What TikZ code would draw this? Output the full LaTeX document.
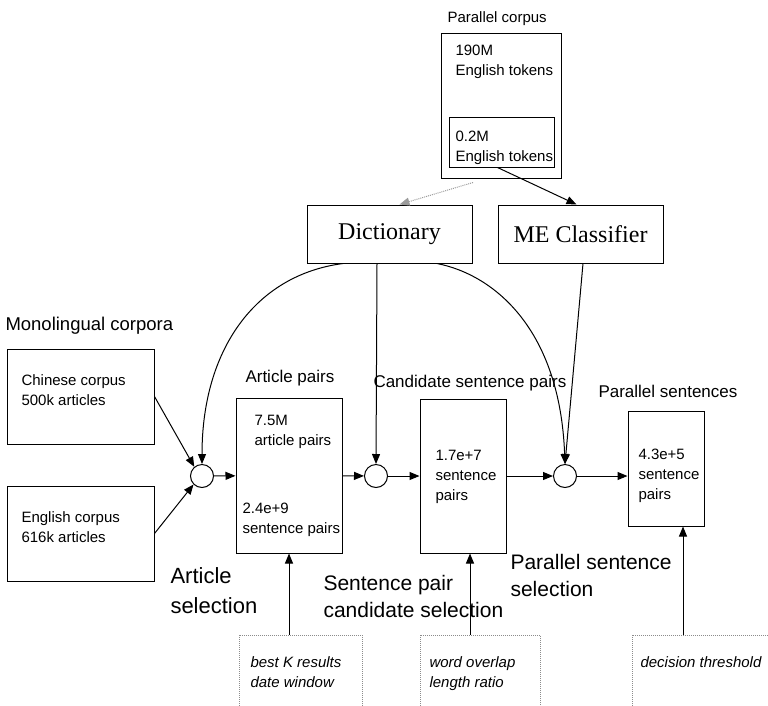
\documentclass[tikz,border=0pt]{standalone}
\usepackage{fontspec}
\setmainfont{Liberation Sans}
\newfontfamily\serifrm{Liberation Serif}
\usetikzlibrary{calc,arrows.meta}

\begin{document}
\begin{tikzpicture}[x=1pt,y=1pt,yscale=-1,xscale=1,line width=1,
  box/.style 2 args={draw,minimum width=#1,minimum height=#2,inner sep=0},
  hintbox/.style 2 args={draw={rgb, 255:red, 140; green, 140; blue, 140},densely dotted,minimum width=#1,minimum height=#2,inner sep=0},
  sel/.style={draw,circle,minimum size=23,inner sep=0},
  txt/.style={inner sep=0,anchor=north west,align=left,font=\fontsize{15}{20}\selectfont},
  lbl/.style={txt,font=\fontsize{17}{20}\selectfont},
  big/.style={txt,font=\fontsize{21}{27}\selectfont},
  hint/.style={txt,font=\fontsize{15}{20}\selectfont\itshape},
  tool/.style={box={165}{58},font=\serifrm\fontsize{24}{28}\selectfont},
  arr/.style={-{Triangle[length=10pt,width=8pt]}}]
\path[use as bounding box] (0,0) rectangle (768,705);
\clip (0,0) rectangle (768,705);

%Shape: Rectangle [parallel corpus]
\node[box={120}{145}] (pc) at (501,105.5) {};
\node[box={105}{50}] (pcin) at (501.5,142) {};
\node[txt] (pclbl) at (447,11) {Parallel corpus};
\node[txt] (pctok) at (455,45) {190M\\English tokens};
\node[txt] (pcintok) at (455,131) {0.2M\\English tokens};

%Shape: Rectangle [tools]
\node[tool] (dict) at (389.5,234) {Dictionary};
\node[tool] (mec) at (580.5,234) {ME Classifier};

%Shape: Rectangle [monolingual corpora]
\node[txt,font=\fontsize{18.5}{22}\selectfont] (monolbl) at (5,317) {Monolingual corpora};
\node[box={147}{95}] (zh) at (80.5,396.5) {};
\node[txt] (zhtxt) at (21,374) {Chinese corpus\\500k articles};
\node[box={147}{95}] (en) at (80.5,533.5) {};
\node[txt] (entxt) at (21,511) {English corpus\\616k articles};

%Shape: Circle
\node[sel] (c1) at (202,476) {};
\node[sel] (c2) at (376,476) {};
\node[sel] (c3) at (565,476) {};

%Shape: Rectangle [article pairs]
\node[box={106}{155}] (art) at (289,475.5) {};
\node[lbl] (artlbl) at (245,370) {Article pairs};
\node[txt] (arttxt) at (254,415) {7.5M\\article pairs};
\node[txt] (artsent) at (242,503) {2.4e+9\\sentence pairs};

%Shape: Rectangle [candidate sentence pairs]
\node[box={86}{154}] (cand) at (463,476) {};
\node[lbl] (candlbl) at (373,375) {Candidate sentence pairs};
\node[txt] (candtxt) at (435,450) {1.7e+7\\sentence\\pairs};

%Shape: Rectangle [parallel sentences]
\node[box={76}{115}] (par) at (666,468.5) {};
\node[lbl] (parlbl) at (598,385) {Parallel sentences};
\node[txt] (partxt) at (638,449) {4.3e+5\\sentence\\pairs};

%Text [selection steps]
\node[txt,font=\fontsize{22}{30}\selectfont] (artsel) at (170,567) {Article\\selection};
\node[big] (candsel) at (323,575) {Sentence pair\\candidate selection};
\node[big] (parsel) at (510,554) {Parallel sentence\\selection};

%Shape: Rectangle [parameters]
\node[hintbox={123}{100}] (kbox) at (300.5,685) {};
\node[hint] (ktxt) at (250,656) {best K results\\date window};
\node[hintbox={120}{100}] (wbox) at (480,685) {};
\node[hint] (wtxt) at (429,656) {word overlap\\length ratio};
\node[hintbox={168}{100}] (tbox) at (716,685) {};
\node[hint] (ttxt) at (640,656) {decision threshold};

%Straight Lines
\draw[arr,color={rgb, 255:red, 155; green, 155; blue, 155},densely dotted] ($(pc.south)+(-28,4)$) -- ($(dict.north)+(10,0)$);
\draw[arr] ($(pcin.south)+(-4,0)$) -- ($(mec.north)+(-4,0)$);
\draw[arr] (zh.east) -- (c1.130);
\draw[arr] (en.east) -- (c1.225);
\draw[arr] (c1) -- (art);
\draw[arr] (art) -- (c2);
\draw[arr] (c2) -- (cand);
\draw[arr] (cand) -- (c3);
\draw[arr] (c3.east) -- (c3.east -| par.west);
\draw[arr] ($(dict.south)+(-12.5,0)$) -- (c2.north);
\draw[arr] ($(mec.south)+(2.5,0)$) -- (c3.north);

%Curve Lines
\draw[arr] ($(dict.south)+(-46.5,0)$) .. controls (255,275) and (202,350) .. (c1.north);
\draw[arr] ($(dict.south)+(47.5,0)$) .. controls (495,275) and (560,330) .. (c3.north);

%Straight Lines [parameters]
\coordinate (ka) at (art.south);
\coordinate (wa) at ($(cand.south)+(7,0)$);
\coordinate (ta) at ($(par.south)+(17,0)$);
\draw[arr] (ka |- kbox.north) -- (ka);
\draw[arr] (wa |- wbox.north) -- (wa);
\draw[arr] (ta |- tbox.north) -- (ta);

\end{tikzpicture}
\end{document}
